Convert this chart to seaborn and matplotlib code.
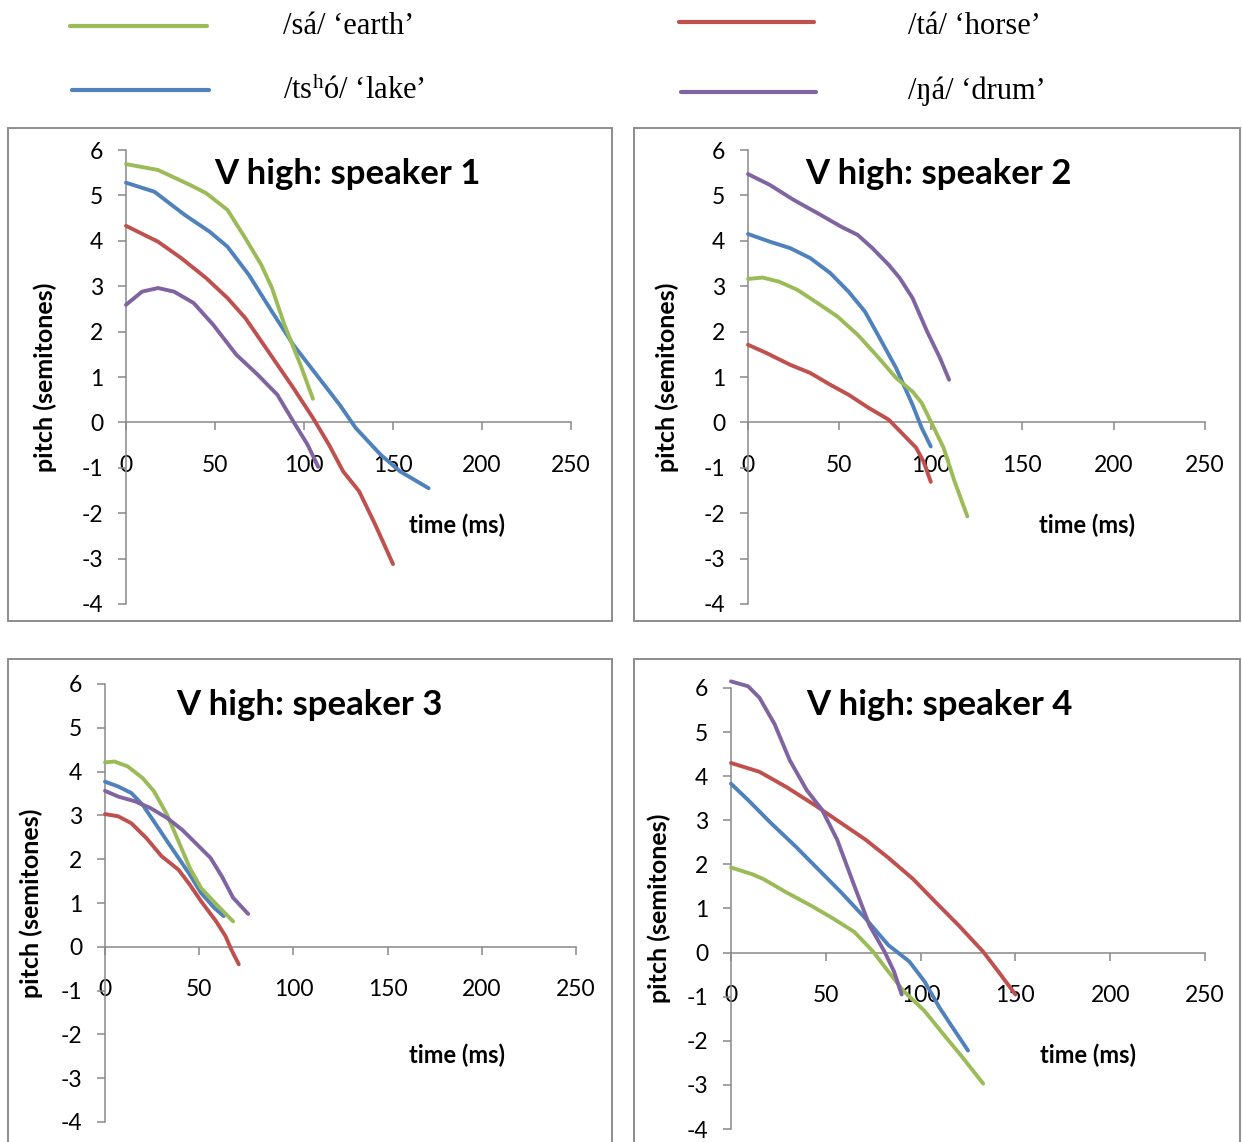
import numpy as np
import pandas as pd
import seaborn as sns
import matplotlib.pyplot as plt
from matplotlib.patches import Rectangle
from matplotlib.lines import Line2D

sns.set_theme(style="white")
plt.rcParams["font.family"] = ["Lato", "DejaVu Sans"]
plt.rcParams["mathtext.fontset"] = "custom"
plt.rcParams["mathtext.rm"] = "Liberation Serif"
plt.rcParams["mathtext.it"] = "Liberation Serif:italic"

# ---- word labels and colours ----
words = ["earth", "horse", "lake", "drum"]
word_labels = {
    "earth": "/sá/ \u2018earth\u2019",
    "horse": "/tá/ \u2018horse\u2019",
    "lake": "/ts$^{\\mathrm{h}}$ó/ \u2018lake\u2019",
    "drum": "/ŋá/ \u2018drum\u2019",
}
colors = {"earth": "#9BBB59", "horse": "#C0504D", "lake": "#4F81BD", "drum": "#8064A2"}

# ---- speaker 1 ----
s1_earth_t = [0, 18, 36, 45, 57, 67, 76, 82, 89, 98, 105]
s1_earth_p = [5.69, 5.56, 5.23, 5.05, 4.68, 4.06, 3.47, 2.96, 2.15, 1.27, 0.52]
s1_lake_t = [0, 16, 33, 47, 57, 69, 82, 94, 107, 120, 129, 143, 154, 170]
s1_lake_p = [5.28, 5.08, 4.57, 4.20, 3.87, 3.25, 2.44, 1.71, 1.05, 0.39, -0.12, -0.71, -1.08, -1.45]
s1_horse_t = [0, 18, 31, 45, 57, 67, 80, 94, 105, 114, 122, 131, 140, 150]
s1_horse_p = [4.33, 3.98, 3.62, 3.18, 2.74, 2.30, 1.56, 0.76, 0.10, -0.49, -1.08, -1.52, -2.25, -3.12]
s1_drum_t = [0, 9, 18, 27, 38, 49, 62, 74, 85, 94, 102, 108]
s1_drum_p = [2.59, 2.88, 2.96, 2.88, 2.63, 2.15, 1.49, 1.05, 0.61, 0.02, -0.49, -0.98]

# ---- speaker 2 ----
s2_drum_t = [0, 12, 25, 38, 51, 60, 68, 77, 83, 90, 98, 105, 110]
s2_drum_p = [5.47, 5.23, 4.90, 4.61, 4.31, 4.13, 3.84, 3.47, 3.18, 2.74, 2.00, 1.42, 0.94]
s2_lake_t = [0, 12, 23, 34, 45, 55, 64, 72, 81, 90, 95, 100]
s2_lake_p = [4.15, 3.98, 3.84, 3.62, 3.29, 2.88, 2.44, 1.86, 1.20, 0.39, -0.12, -0.53]
s2_earth_t = [0, 8, 17, 27, 38, 49, 60, 70, 81, 90, 95, 100, 107, 113, 120]
s2_earth_p = [3.16, 3.19, 3.10, 2.92, 2.63, 2.33, 1.93, 1.49, 0.98, 0.68, 0.43, 0.02, -0.56, -1.30, -2.07]
s2_horse_t = [0, 10, 23, 34, 45, 55, 66, 77, 85, 92, 96, 100]
s2_horse_p = [1.71, 1.53, 1.27, 1.09, 0.83, 0.61, 0.32, 0.06, -0.27, -0.56, -0.86, -1.31]

# ---- speaker 3 ----
s3_earth_t = [0, 5, 12, 20, 26, 33, 39, 45, 51, 60, 68]
s3_earth_p = [4.21, 4.23, 4.12, 3.85, 3.55, 3.01, 2.41, 1.80, 1.34, 0.93, 0.58]
s3_lake_t = [0, 7, 14, 20, 26, 33, 39, 45, 51, 58, 63]
s3_lake_p = [3.77, 3.66, 3.51, 3.24, 2.86, 2.41, 2.03, 1.65, 1.23, 0.89, 0.70]
s3_drum_t = [0, 7, 16, 24, 33, 41, 49, 56, 62, 68, 76]
s3_drum_p = [3.56, 3.43, 3.32, 3.17, 2.94, 2.67, 2.33, 2.03, 1.61, 1.12, 0.75]
s3_horse_t = [0, 7, 14, 22, 30, 39, 45, 51, 59, 64, 67, 71]
s3_horse_p = [3.03, 2.98, 2.82, 2.48, 2.07, 1.76, 1.42, 1.04, 0.58, 0.24, -0.06, -0.40]

# ---- speaker 4 ----
s4_drum_t = [0, 9, 15, 23, 31, 40, 48, 56, 65, 73, 81, 86, 90]
s4_drum_p = [6.15, 6.04, 5.78, 5.18, 4.36, 3.68, 3.24, 2.56, 1.52, 0.62, 0.02, -0.43, -0.95]
s4_horse_t = [0, 15, 29, 44, 58, 71, 83, 96, 108, 120, 133, 141, 150]
s4_horse_p = [4.30, 4.10, 3.76, 3.35, 2.94, 2.56, 2.15, 1.67, 1.14, 0.62, 0.02, -0.43, -0.95]
s4_lake_t = [0, 9, 21, 34, 46, 58, 71, 83, 94, 102, 110, 118, 125]
s4_lake_p = [3.83, 3.46, 2.94, 2.41, 1.89, 1.37, 0.77, 0.17, -0.20, -0.65, -1.25, -1.77, -2.22]
s4_earth_t = [0, 11, 17, 29, 42, 54, 65, 75, 83, 91, 102, 112, 122, 133]
s4_earth_p = [1.93, 1.78, 1.67, 1.37, 1.07, 0.77, 0.47, 0.02, -0.43, -0.87, -1.32, -1.85, -2.37, -2.97]

speakers = {
    1: {"earth": (s1_earth_t, s1_earth_p), "lake": (s1_lake_t, s1_lake_p),
        "horse": (s1_horse_t, s1_horse_p), "drum": (s1_drum_t, s1_drum_p)},
    2: {"earth": (s2_earth_t, s2_earth_p), "lake": (s2_lake_t, s2_lake_p),
        "horse": (s2_horse_t, s2_horse_p), "drum": (s2_drum_t, s2_drum_p)},
    3: {"earth": (s3_earth_t, s3_earth_p), "lake": (s3_lake_t, s3_lake_p),
        "horse": (s3_horse_t, s3_horse_p), "drum": (s3_drum_t, s3_drum_p)},
    4: {"earth": (s4_earth_t, s4_earth_p), "lake": (s4_lake_t, s4_lake_p),
        "horse": (s4_horse_t, s4_horse_p), "drum": (s4_drum_t, s4_drum_p)},
}

x_ticks = [0, 50, 100, 150, 200, 250]
y_ticks = [-4, -3, -2, -1, 0, 1, 2, 3, 4, 5, 6]

# ---- page geometry (pixels) ----
W, H = 1242, 1142
fig = plt.figure(figsize=(W / 100, H / 100), dpi=100)

# plot area boxes: left, top, right, bottom
boxes = {1: (126, 150, 571, 604), 2: (748, 150, 1205, 604),
         3: (105, 684, 576, 1122), 4: (731, 688, 1205, 1129)}
frames = {1: (8, 128, 612, 621), 2: (634, 128, 1240, 621),
          3: (8, 659, 612, 1170), 4: (634, 659, 1240, 1170)}
title_pos = {1: (347, 174), 2: (938, 174), 3: (309, 705), 4: (939, 705)}
xlabel_pos = {1: (457, 525), 2: (1087, 525), 3: (457, 1055), 4: (1088, 1055)}
ylabel_x = {1: 45, 2: 667, 3: 31, 4: 659}

axis_gray = "#898989"


def fig_rect(box):
    l, t, r, b = box
    return [l / W, 1 - b / H, (r - l) / W, (b - t) / H]


def to_axes(box, x, y):
    l, t, r, b = box
    return (x - l) / (r - l), (b - y) / (b - t)


for k in (1, 2, 3, 4):
    # chart frame
    l, t, r, b = frames[k]
    fig.add_artist(Rectangle((l / W, 1 - b / H), (r - l) / W, (b - t) / H,
                             transform=fig.transFigure, fill=False,
                             edgecolor="#8c8c8c", linewidth=1.4, zorder=0))

    box = boxes[k]
    ax = fig.add_axes(fig_rect(box))
    ax.set_facecolor("none")

    rows = []
    for w in ["lake", "earth", "horse", "drum"]:
        tt, pp = speakers[k][w]
        for a, v in zip(tt, pp):
            rows.append({"time": a, "pitch": v, "word": w})
    df = pd.DataFrame(rows)
    sns.lineplot(data=df, x="time", y="pitch", hue="word", palette=colors,
                 estimator=None, sort=False, legend=False, linewidth=2.8,
                 ax=ax, zorder=3, clip_on=False)
    for ln in ax.get_lines():
        ln.set_solid_joinstyle("round")
        ln.set_solid_capstyle("round")

    ax.set_xlim(0, 250)
    ax.set_ylim(-4, 6)
    ax.set_xticks(x_ticks)
    ax.set_yticks(y_ticks)
    ax.set_xticklabels([str(v) for v in x_ticks])
    ax.set_yticklabels([str(v) for v in y_ticks])

    for s in ("top", "right"):
        ax.spines[s].set_visible(False)
    ax.spines["bottom"].set_position(("data", 0))
    for s in ("left", "bottom"):
        ax.spines[s].set_color(axis_gray)
        ax.spines[s].set_linewidth(1.1)
    ax.tick_params(axis="both", direction="out", length=5.5, width=1.1,
                   color=axis_gray, labelsize=16.5, labelcolor="black",
                   bottom=True, left=True)
    ax.tick_params(axis="x", pad=18)
    ax.tick_params(axis="y", pad=11)

    ax.set_ylabel("pitch (semitones)", fontsize=18, fontweight="bold", color="black")
    ax.yaxis.label.set_verticalalignment("center")
    ax.yaxis.set_label_coords(*to_axes(box, ylabel_x[k], (box[1] + box[3]) / 2))

    ax.set_xlabel("time (ms)", fontsize=17, fontweight="bold", color="black")
    ax.xaxis.label.set_verticalalignment("center")
    ax.xaxis.set_label_coords(*to_axes(box, *xlabel_pos[k]))

    tx, ty = to_axes(box, *title_pos[k])
    ax.text(tx, ty, f"V high: speaker {k}", transform=ax.transAxes,
            ha="center", va="center", fontsize=25, fontweight="bold", color="black")

# ---- legend across the top ----
legend_items = [
    ("earth", (70, 207, 26), (283, 34)),
    ("horse", (679, 814, 22), (908, 34)),
    ("lake", (72, 209, 90), (283, 99)),
    ("drum", (681, 816, 92), (908, 99)),
]
for w, (x0, x1, yl), (xt, yt) in legend_items:
    fig.add_artist(Line2D([x0 / W, x1 / W], [1 - yl / H, 1 - yl / H],
                          transform=fig.transFigure, color=colors[w], linewidth=3.0))
    fig.text(xt / W, 1 - yt / H, word_labels[w], ha="left", va="baseline",
             fontsize=22, family=["Liberation Serif", "DejaVu Serif"], color="black")

fig.savefig("out.png", dpi=100, facecolor="white")
